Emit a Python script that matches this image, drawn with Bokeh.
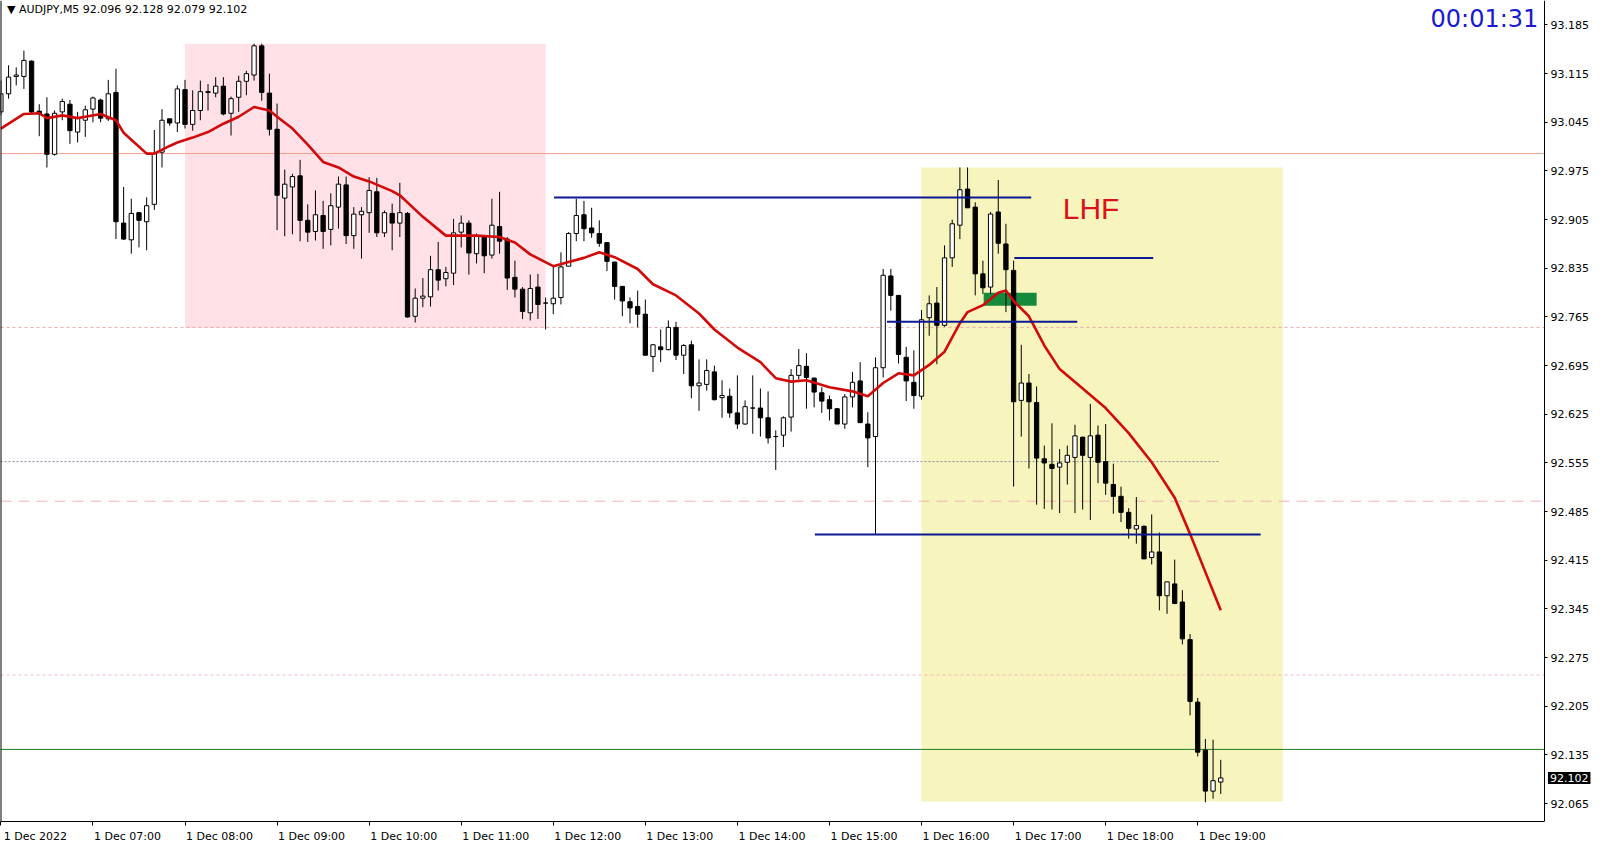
from bokeh.plotting import figure
from bokeh.models import (ColumnDataSource, FixedTicker, Range1d, Span, Label,
                          NumeralTickFormatter)
from bokeh.embed import file_html
from bokeh.resources import INLINE

# ---------------- data (AUDJPY M5, 1 Dec 2022 06:00 .. 19:15) ----------------
opens = [93.060, 93.086, 93.111, 93.111, 93.133, 93.061, 93.057, 92.999, 93.060, 93.071,
         93.031, 93.048, 93.064, 93.077, 93.050, 93.088, 92.900, 92.876, 92.915, 92.902,
         92.927, 93.002, 93.050, 93.044, 93.092, 93.042, 93.062, 93.089, 93.087, 93.097,
         93.058, 93.081, 93.104, 93.113, 93.155, 93.087, 93.035, 92.936, 92.952, 92.968,
         92.904, 92.888, 92.911, 92.891, 92.923, 92.955, 92.882, 92.912, 92.915, 92.945,
         92.886, 92.914, 92.900, 92.914, 92.766, 92.792, 92.794, 92.833, 92.820, 92.828,
         92.887, 92.900, 92.856, 92.880, 92.854, 92.895, 92.877, 92.822, 92.805, 92.771,
         92.808, 92.785, 92.784, 92.793, 92.838, 92.885, 92.912, 92.893, 92.885, 92.872,
         92.844, 92.809, 92.787, 92.780, 92.769, 92.708, 92.722, 92.718, 92.750, 92.710,
         92.725, 92.666, 92.668, 92.686, 92.649, 92.651, 92.627, 92.611, 92.634, 92.634,
         92.620, 92.593, 92.595, 92.621, 92.681, 92.694, 92.677, 92.656, 92.646, 92.633,
         92.611, 92.650, 92.673, 92.611, 92.593, 92.692, 92.824, 92.796, 92.707, 92.671,
         92.651, 92.764, 92.785, 92.753, 92.850, 92.897, 92.949, 92.923, 92.827, 92.808,
         92.916, 92.870, 92.832, 92.645, 92.670, 92.642, 92.561, 92.553, 92.549, 92.556,
         92.563, 92.592, 92.563, 92.595, 92.557, 92.524, 92.507, 92.484, 92.460, 92.464,
         92.419, 92.427, 92.364, 92.381, 92.355, 92.301, 92.211, 92.142, 92.083, 92.096]
highs = [93.105, 93.127, 93.124, 93.148, 93.134, 93.071, 93.081, 93.062, 93.079, 93.077,
         93.060, 93.069, 93.082, 93.079, 93.106, 93.122, 92.952, 92.935, 92.915, 92.937,
         93.034, 93.064, 93.050, 93.098, 93.106, 93.091, 93.105, 93.100, 93.110, 93.110,
         93.082, 93.112, 93.119, 93.158, 93.158, 93.115, 93.072, 92.977, 92.971, 92.991,
         92.927, 92.947, 92.932, 92.943, 92.967, 92.967, 92.923, 92.923, 92.966, 92.965,
         92.918, 92.928, 92.958, 92.916, 92.806, 92.821, 92.853, 92.873, 92.837, 92.906,
         92.911, 92.904, 92.885, 92.882, 92.935, 92.945, 92.880, 92.846, 92.808, 92.826,
         92.827, 92.793, 92.837, 92.858, 92.887, 92.935, 92.932, 92.922, 92.904, 92.872,
         92.844, 92.809, 92.793, 92.803, 92.790, 92.726, 92.747, 92.760, 92.758, 92.726,
         92.731, 92.704, 92.704, 92.695, 92.674, 92.662, 92.681, 92.645, 92.681, 92.662,
         92.658, 92.602, 92.622, 92.690, 92.719, 92.713, 92.678, 92.664, 92.652, 92.634,
         92.654, 92.686, 92.700, 92.628, 92.707, 92.834, 92.834, 92.796, 92.722, 92.717,
         92.775, 92.796, 92.808, 92.868, 92.905, 92.980, 92.980, 92.930, 92.846, 92.916,
         92.962, 92.899, 92.846, 92.725, 92.683, 92.665, 92.580, 92.612, 92.575, 92.580,
         92.610, 92.593, 92.640, 92.609, 92.611, 92.554, 92.521, 92.490, 92.506, 92.465,
         92.481, 92.455, 92.384, 92.416, 92.372, 92.309, 92.217, 92.158, 92.157, 92.128]
lows = [93.055, 93.079, 93.098, 93.093, 93.057, 93.025, 92.980, 92.997, 93.048, 93.014,
        93.016, 93.024, 93.045, 93.045, 93.047, 92.877, 92.876, 92.856, 92.865, 92.861,
        92.919, 92.980, 93.040, 93.031, 93.036, 93.033, 93.048, 93.062, 93.081, 93.055,
        93.026, 93.060, 93.084, 93.105, 93.076, 93.026, 92.890, 92.881, 92.884, 92.874,
        92.873, 92.875, 92.863, 92.868, 92.892, 92.870, 92.863, 92.849, 92.886, 92.880,
        92.880, 92.861, 92.880, 92.764, 92.757, 92.779, 92.780, 92.803, 92.809, 92.811,
        92.865, 92.826, 92.842, 92.828, 92.849, 92.856, 92.804, 92.793, 92.762, 92.760,
        92.762, 92.747, 92.769, 92.783, 92.838, 92.874, 92.874, 92.879, 92.866, 92.831,
        92.790, 92.766, 92.756, 92.750, 92.710, 92.686, 92.700, 92.717, 92.703, 92.683,
        92.648, 92.630, 92.659, 92.645, 92.620, 92.620, 92.604, 92.610, 92.597, 92.593,
        92.583, 92.545, 92.578, 92.600, 92.675, 92.633, 92.635, 92.627, 92.616, 92.611,
        92.604, 92.635, 92.613, 92.549, 92.453, 92.678, 92.774, 92.698, 92.644, 92.633,
        92.646, 92.738, 92.697, 92.751, 92.837, 92.877, 92.922, 92.796, 92.798, 92.798,
        92.856, 92.772, 92.521, 92.593, 92.547, 92.495, 92.489, 92.488, 92.483, 92.524,
        92.483, 92.488, 92.473, 92.526, 92.509, 92.482, 92.470, 92.446, 92.439, 92.417,
        92.409, 92.343, 92.338, 92.352, 92.294, 92.192, 92.133, 92.067, 92.072, 92.079]
closes = [93.086, 93.110, 93.113, 93.134, 93.060, 93.057, 92.999, 93.058, 93.075, 93.033,
          93.051, 93.063, 93.080, 93.051, 93.086, 92.902, 92.877, 92.914, 92.904, 92.925,
          93.000, 93.048, 93.044, 93.093, 93.042, 93.062, 93.089, 93.088, 93.097, 93.057,
          93.079, 93.104, 93.115, 93.155, 93.088, 93.035, 92.940, 92.956, 92.967, 92.904,
          92.887, 92.912, 92.888, 92.925, 92.956, 92.882, 92.913, 92.917, 92.947, 92.886,
          92.915, 92.900, 92.915, 92.765, 92.792, 92.795, 92.833, 92.818, 92.829, 92.886,
          92.900, 92.857, 92.882, 92.853, 92.897, 92.874, 92.821, 92.805, 92.773, 92.806,
          92.783, 92.785, 92.792, 92.837, 92.885, 92.911, 92.892, 92.886, 92.871, 92.845,
          92.809, 92.788, 92.778, 92.769, 92.710, 92.725, 92.718, 92.750, 92.710, 92.724,
          92.666, 92.670, 92.688, 92.646, 92.652, 92.627, 92.611, 92.636, 92.634, 92.620,
          92.591, 92.593, 92.620, 92.681, 92.695, 92.678, 92.657, 92.644, 92.633, 92.611,
          92.650, 92.671, 92.613, 92.591, 92.692, 92.825, 92.796, 92.711, 92.673, 92.652,
          92.761, 92.784, 92.753, 92.850, 92.899, 92.948, 92.922, 92.827, 92.807, 92.913,
          92.871, 92.833, 92.643, 92.670, 92.643, 92.562, 92.555, 92.547, 92.555, 92.566,
          92.594, 92.566, 92.594, 92.556, 92.526, 92.507, 92.484, 92.461, 92.465, 92.417,
          92.427, 92.364, 92.384, 92.353, 92.302, 92.212, 92.139, 92.083, 92.098, 92.102]

# moving average (red line) read at sample bars
ma_bar = [0, 3, 5, 6, 8, 10, 11, 13, 15, 16, 17, 19, 20, 22, 23, 25, 27, 29, 31, 33,
          35, 36, 38, 40, 42, 44, 46, 48, 51, 52, 55, 58, 62, 65, 67, 69, 72, 74, 76, 78,
          80, 83, 85, 88, 91, 93, 96, 99, 101, 103, 105, 108, 111, 113, 115, 117, 119, 121,
          123, 125, 126, 128, 130, 131, 132, 134, 136, 138, 141, 144, 147, 150, 153, 155,
          157, 159]
ma_val = [93.036, 93.057, 93.058, 93.051, 93.055, 93.051, 93.053, 93.057, 93.048, 93.030,
          93.020, 93.000, 93.000, 93.011, 93.016, 93.023, 93.031, 93.043, 93.053, 93.067,
          93.062, 93.053, 93.036, 93.013, 92.988, 92.980, 92.967, 92.960, 92.946, 92.940,
          92.909, 92.882, 92.882, 92.880, 92.872, 92.855, 92.838, 92.844, 92.850, 92.858,
          92.851, 92.834, 92.812, 92.796, 92.770, 92.747, 92.721, 92.700, 92.677, 92.672,
          92.674, 92.664, 92.658, 92.651, 92.670, 92.684, 92.681, 92.696, 92.715, 92.756,
          92.772, 92.782, 92.800, 92.803, 92.788, 92.766, 92.724, 92.690, 92.662, 92.634,
          92.598, 92.556, 92.505, 92.453, 92.398, 92.343]

# time axis
tick_bars = [0, 12, 24, 36, 48, 60, 72, 84, 96, 108, 120, 132, 144, 156]
tick_labels = ["1 Dec 2022", "1 Dec 07:00", "1 Dec 08:00", "1 Dec 09:00", "1 Dec 10:00",
               "1 Dec 11:00", "1 Dec 12:00", "1 Dec 13:00", "1 Dec 14:00", "1 Dec 15:00",
               "1 Dec 16:00", "1 Dec 17:00", "1 Dec 18:00", "1 Dec 19:00"]
price_ticks = [93.185, 93.115, 93.045, 92.975, 92.905, 92.835, 92.765, 92.695, 92.625,
               92.555, 92.485, 92.415, 92.345, 92.275, 92.205, 92.135, 92.065]
last_price = 92.102

# horizontal price lines
hline_price = [93.000, 92.750, 92.500, 92.250, 92.143]
hline_color = ["#f3a08e", "#e9a7a7", "#f0b4b4", "#efbcbc", "#1d7d1d"]
hline_dash = ["solid", "3 3", "11 7", "3 3", "solid"]

# drawn objects
level_price = [92.937, 92.850, 92.758, 92.452]
level_from = [72.1, 132.1, 115.5, 106.1]
level_to = [134.3, 150.2, 140.3, 164.2]

# ---------------- figure ----------------
X0 = -0.05           # left edge of the chart
XR = 201.2           # price scale position (right edge of the chart area)
X1 = X0 + (XR - X0) * 1600.0 / 1544.0
Y0, Y1 = 92.0393, 93.2202

p = figure(width=1600, height=845, output_backend="svg", toolbar_location=None,
           x_range=Range1d(X0, X1), y_range=Range1d(Y0, Y1),
           y_axis_location="right", min_border_left=0, min_border_top=0,
           min_border_right=0, min_border_bottom=24)
p.title.visible = False
p.xgrid.visible = False
p.ygrid.visible = False
p.outline_line_color = None
p.background_fill_color = "white"
p.border_fill_color = "white"

# background rectangles
p.quad(left=[24.0], right=[71.0], bottom=[92.749], top=[93.158],
       fill_color="#ffe1e7", line_color=None)
p.quad(left=[120.0], right=[167.1], bottom=[92.068], top=[92.980],
       fill_color="#f7f5bd", line_color=None)

# horizontal lines
for pr, col, dash in zip(hline_price, hline_color, hline_dash):
    p.segment(x0=[X0], y0=[pr], x1=[XR], y1=[pr], line_color=col, line_width=1,
              line_dash=dash)
p.segment(x0=[X0], y0=[92.557], x1=[158.9], y1=[92.557], line_color="#8a8aa0",
          line_width=1, line_dash="2 2")

# green zone
p.quad(left=[128.1], right=[135.0], bottom=[92.781], top=[92.800],
       fill_color="#168a3c", line_color=None)

# candles
fills = ["white" if c >= o else "black" for o, c in zip(opens, closes)]
src = ColumnDataSource(dict(
    x=list(range(len(opens))), h=highs, l=lows,
    top=[max(o, c) for o, c in zip(opens, closes)],
    bottom=[min(o, c) for o, c in zip(opens, closes)],
    fill=fills))
p.segment(x0="x", y0="h", x1="x", y1="l", line_color="black", line_width=1, source=src)
p.vbar(x="x", width=0.56, top="top", bottom="bottom", fill_color="fill",
       line_color="black", line_width=1, source=src)

# moving average
p.line(ma_bar, ma_val, line_color="#d20a0a", line_width=2.6)

# blue levels
p.segment(x0=level_from, y0=level_price, x1=level_to, y1=level_price,
          line_color="#0c1994", line_width=2)

# left frame line
p.add_layout(Span(location=X0, dimension="height", line_color="black", line_width=2))

# axes
xa = p.xaxis[0]
xa.ticker = FixedTicker(ticks=[b + 4.5 for b in tick_bars], minor_ticks=tick_bars)
xa.major_label_overrides = {b + 4.5: t for b, t in zip(tick_bars, tick_labels)}
xa.bounds = (X0, XR)
xa.major_tick_line_color = None
xa.major_tick_out = 0
xa.major_tick_in = 0
xa.minor_tick_line_color = "black"
xa.minor_tick_out = 4
xa.minor_tick_in = 0
xa.major_label_standoff = 4
xa.axis_line_color = "black"
xa.major_label_text_font = "DejaVu Sans"
xa.major_label_text_font_size = "11px"
xa.major_label_text_color = "black"

ya = p.yaxis[0]
ya.fixed_location = XR
ya.ticker = FixedTicker(ticks=price_ticks)
ya.formatter = NumeralTickFormatter(format="0.000")
ya.major_tick_out = 3
ya.major_tick_in = 0
ya.minor_tick_line_color = None
ya.major_label_standoff = 3
ya.axis_line_color = "black"
ya.major_tick_line_color = "black"
ya.major_label_text_font = "DejaVu Sans"
ya.major_label_text_font_size = "11px"
ya.major_label_text_color = "black"

# texts
p.add_layout(Label(x=X0 + 0.85, y=Y1 - 0.003, text="\u25bc AUDJPY,M5  92.096 92.128 92.079 92.102",
                   text_font="DejaVu Sans", text_font_size="11px", text_color="black",
                   text_baseline="top", text_align="left"))
p.add_layout(Label(x=200.4, y=93.1937, text="00:01:31", text_font="DejaVu Sans",
                   text_font_size="24px", text_color="#1a1ad2", text_baseline="middle",
                   text_align="right"))
p.add_layout(Label(x=138.4, y=92.9205, text="LHF", text_font="Liberation Sans",
                   text_font_size="30px", text_color="#dc121a", text_baseline="middle",
                   text_align="left"))

# current price box on the price scale
price_box = dict(x=XR + 0.45, y=last_price, text="%.3f" % last_price,
                 text_font="DejaVu Sans", text_font_size="11px", text_color="white",
                 background_fill_color="black", text_baseline="middle", text_align="left")
if "padding" in Label.properties():
    price_box["padding"] = 2
p.add_layout(Label(**price_box))

open("out.html", "w").write(file_html(p, INLINE))
